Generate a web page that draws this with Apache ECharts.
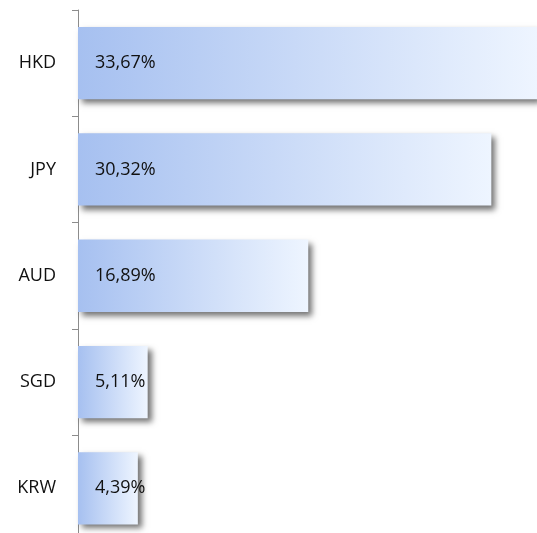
<!DOCTYPE html>
<html>
<head>
<meta charset="utf-8">
<script src="https://cdn.jsdelivr.net/npm/echarts@6/dist/echarts.min.js"></script>
<style>
  html, body { margin: 0; padding: 0; background: #fff; }
  #chart { width: 537px; height: 533px; }
</style>
</head>
<body>
<div id="chart"></div>
<script>
// 货币占比
const currencies = ['HKD', 'JPY', 'AUD', 'SGD', 'KRW']
const shares = [33.67, 30.32, 16.89, 5.11, 4.39]

const chart = echarts.init(document.getElementById('chart'))

const option = {
    animation: false,
    grid: {
        left: 78,
        right: 0,
        top: 10,
        height: 531.5,
        outerBoundsMode: 'none'
    },
    xAxis: {
        type: 'value',
        min: 0,
        max: 33.67,
        show: false
    },
    yAxis: {
        type: 'category',
        inverse: true,
        data: currencies,
        axisLine: { show: true, lineStyle: { color: '#8c8c8c', width: 1 } },
        axisTick: { show: true, length: 6, alignWithLabel: false, lineStyle: { color: '#8c8c8c' } },
        axisLabel: {
            margin: 22,
            fontSize: 18,
            color: '#111',
            fontFamily: 'Open Sans'
        }
    },
    series: [
        {
            type: 'bar',
            data: shares,
            barCategoryGap: '32%',
            itemStyle: {
                color: new echarts.graphic.LinearGradient(0, 0, 1, 0, [
                    { offset: 0, color: '#a6c0f0' },
                    { offset: 1, color: '#eef5ff' }
                ]),
                shadowColor: 'rgba(0, 0, 0, 0.55)',
                shadowBlur: 6,
                shadowOffsetX: 4,
                shadowOffsetY: 4
            },
            label: {
                show: true,
                position: 'insideLeft',
                distance: 17,
                fontSize: 18,
                color: '#111',
                fontFamily: 'Open Sans',
                formatter: (p) => p.value.toFixed(2).replace('.', ',') + '%'
            }
        }
    ]
}

chart.setOption(option)
</script>
</body>
</html>
